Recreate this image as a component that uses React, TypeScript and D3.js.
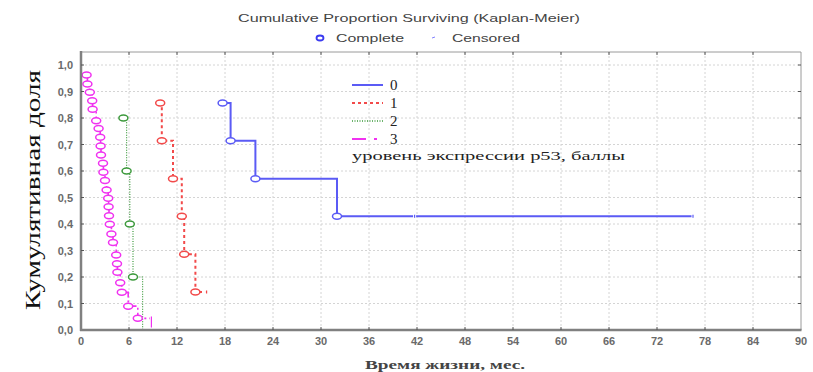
import React, { useRef, useEffect } from 'react';
import * as d3 from 'd3';

// group 0 (blue)
const g0Times = [17.7, 18.7, 21.8, 32.0];
const g0Surv = [0.857, 0.714, 0.571, 0.429];
const g0CensTimes = [41.7, 76.5];
const g0CensSurv = [0.429, 0.429];

// group 1 (red)
const g1Times = [9.9, 10.1, 11.5, 12.6, 12.9, 14.3];
const g1Surv = [0.857, 0.714, 0.571, 0.429, 0.286, 0.143];
const g1CensTimes = [15.7];
const g1CensSurv = [0.143];

// group 2 (green)
const g2Times = [5.3, 5.7, 6.1, 6.5, 7.7];
const g2Surv = [0.8, 0.6, 0.4, 0.2, 0.0];
const g2CensTimes: number[] = [];
const g2CensSurv: number[] = [];

// group 3 (magenta)
const g3Times = [0.7, 0.8, 1.1, 1.4, 1.45, 1.9, 2.2, 2.4, 2.45, 2.5, 2.75, 2.8, 3.0, 3.2, 3.4, 3.45, 3.5, 3.6, 3.8, 4.0, 4.4, 4.5, 4.55, 4.9, 5.1, 5.9, 7.1];
const g3Surv = [0.962, 0.928, 0.897, 0.865, 0.833, 0.79, 0.76, 0.727, 0.694, 0.66, 0.629, 0.595, 0.564, 0.528, 0.497, 0.465, 0.431, 0.399, 0.362, 0.33, 0.283, 0.25, 0.218, 0.178, 0.142, 0.09, 0.044];
const g3CensTimes = [8.8];
const g3CensSurv = [0.03];

const xTicks = [0, 6, 12, 18, 24, 30, 36, 42, 48, 54, 60, 66, 72, 78, 84, 90];
const yTicks = [0, 0.1, 0.2, 0.3, 0.4, 0.5, 0.6, 0.7, 0.8, 0.9, 1.0];
const groupLabels = ['0', '1', '2', '3'];

const GROUPS = [
  { times: g0Times, surv: g0Surv, cTimes: g0CensTimes, cSurv: g0CensSurv, color: '#5b5bf5', dash: null, width: 2, cLen: 3 },
  { times: g1Times, surv: g1Surv, cTimes: g1CensTimes, cSurv: g1CensSurv, color: '#f24a4a', dash: '3,3', width: 2, cLen: 3 },
  { times: g2Times, surv: g2Surv, cTimes: g2CensTimes, cSurv: g2CensSurv, color: '#3d9a3d', dash: '1,1.5', width: 1.2, cLen: 3 },
  { times: g3Times, surv: g3Surv, cTimes: g3CensTimes, cSurv: g3CensSurv, color: '#f032f0', dash: '9,3,2,3', width: 1.6, cLen: 11 },
];

const App: React.FC = () => {
  const svgRef = useRef<SVGSVGElement | null>(null);

  useEffect(() => {
    if (!svgRef.current) return;
    const svg = d3.select(svgRef.current);
    svg.selectAll('*').remove();
    const width = 813, height = 372;
    const left = 81, right = 801, top = 52, bottom = 330;

    const x = d3.scaleLinear().domain([0, 90]).range([left, right]);
    const y = d3.scaleLinear().domain([0, 1]).range([bottom, 65]);

    svg.append('rect').attr('width', width).attr('height', height).attr('fill', '#fff');

    svg.append('clipPath').attr('id', 'plotclip')
      .append('rect').attr('x', left).attr('y', top).attr('width', right - left).attr('height', bottom - top);

    // grid
    const grid = svg.append('g').attr('stroke', '#d4d4d4').attr('stroke-width', 1).attr('stroke-dasharray', '2,2');
    grid.selectAll('line.vx').data(xTicks.slice(1, -1)).join('line')
      .attr('x1', d => x(d)).attr('x2', d => x(d)).attr('y1', top).attr('y2', bottom);
    grid.selectAll('line.hy').data(yTicks.slice(1)).join('line')
      .attr('x1', left).attr('x2', right).attr('y1', d => y(d)).attr('y2', d => y(d));

    // curves
    const plot = svg.append('g').attr('clip-path', 'url(#plotclip)');
    GROUPS.forEach(g => {
      const pts: [number, number][] = [];
      g.times.forEach((t, i) => {
        if (i > 0) pts.push([x(t), y(g.surv[i - 1])]);
        pts.push([x(t), y(g.surv[i])]);
      });
      const lastS = g.surv[g.surv.length - 1];
      g.cTimes.forEach(t => pts.push([x(t), y(lastS)]));
      plot.append('path')
        .attr('d', d3.line()(pts))
        .attr('fill', 'none')
        .attr('stroke', g.color)
        .attr('stroke-width', g.width)
        .attr('stroke-dasharray', g.dash);
      // censored marks
      g.cTimes.forEach((t, i) => {
        plot.append('rect').attr('x', x(t) - 1.5).attr('y', y(lastS) - 2).attr('width', 3).attr('height', 4).attr('fill', '#fff');
        plot.append('line')
          .attr('x1', x(t)).attr('x2', x(t))
          .attr('y1', y(g.cSurv[i]) - g.cLen / 2).attr('y2', y(g.cSurv[i]) + g.cLen / 2)
          .attr('stroke', g.color).attr('stroke-width', 1.2);
      });
      // complete marks (the one sitting on the zero line is hidden by the axis)
      plot.selectAll(null).data(g.times.map((t, i) => [t, g.surv[i]]).filter(d => d[1] > 0)).join('ellipse')
        .attr('cx', d => x(d[0])).attr('cy', d => y(d[1]))
        .attr('rx', 4.5).attr('ry', 3)
        .attr('fill', '#fff').attr('stroke', g.color).attr('stroke-width', 1.5);
    });

    // frame
    svg.append('line').attr('x1', left).attr('x2', right).attr('y1', top).attr('y2', top).attr('stroke', '#9a9a9a').attr('stroke-width', 1);
    svg.append('line').attr('x1', right).attr('x2', right).attr('y1', top).attr('y2', bottom).attr('stroke', '#9a9a9a').attr('stroke-width', 1);
    svg.append('line').attr('x1', left).attr('x2', left).attr('y1', top - 1).attr('y2', bottom + 1).attr('stroke', '#808080').attr('stroke-width', 2.5);
    svg.append('line').attr('x1', left - 1).attr('x2', right + 0.5).attr('y1', bottom).attr('y2', bottom).attr('stroke', '#808080').attr('stroke-width', 2.5);

    // tick marks
    const ticks = svg.append('g').attr('stroke', '#555').attr('stroke-width', 1);
    xTicks.slice(1, -1).forEach(t => {
      ticks.append('line').attr('x1', x(t)).attr('x2', x(t)).attr('y1', bottom).attr('y2', bottom - 3);
      ticks.append('line').attr('x1', x(t)).attr('x2', x(t)).attr('y1', top).attr('y2', top + 3);
    });
    yTicks.slice(1).forEach(t => {
      ticks.append('line').attr('x1', left).attr('x2', left + 3).attr('y1', y(t)).attr('y2', y(t));
      ticks.append('line').attr('x1', right).attr('x2', right - 3).attr('y1', y(t)).attr('y2', y(t));
    });

    // tick labels
    const fmt = (v: number) => v.toFixed(1).replace('.', ',');
    svg.append('g').selectAll('text').data(yTicks).join('text')
      .attr('x', 73).attr('y', d => y(d) + 4)
      .attr('text-anchor', 'end')
      .attr('font-family', 'Liberation Sans, Arial, sans-serif').attr('font-size', 11).attr('font-weight', 'bold')
      .attr('fill', '#6a6a6a')
      .text(d => fmt(d));
    svg.append('g').selectAll('text').data(xTicks).join('text')
      .attr('x', d => x(d)).attr('y', 345)
      .attr('text-anchor', 'middle')
      .attr('font-family', 'Liberation Sans, Arial, sans-serif').attr('font-size', 11).attr('font-weight', 'bold')
      .attr('fill', '#6a6a6a')
      .text(d => String(d));

    // axis titles
    svg.append('text')
      .attr('transform', 'translate(40,190) rotate(-90)')
      .attr('text-anchor', 'middle')
      .attr('font-family', 'Liberation Serif, Times New Roman, serif').attr('font-size', 20)
      .attr('fill', '#111')
      .attr('textLength', 240).attr('lengthAdjust', 'spacingAndGlyphs')
      .text('Кумулятивная доля');
    svg.append('text')
      .attr('x', 445).attr('y', 369)
      .attr('text-anchor', 'middle')
      .attr('font-family', 'Liberation Serif, Times New Roman, serif').attr('font-size', 13).attr('font-weight', 'bold')
      .attr('fill', '#444')
      .attr('textLength', 160).attr('lengthAdjust', 'spacingAndGlyphs')
      .text('Время жизни, мес.');

    // title and marker legend
    svg.append('text')
      .attr('x', 409).attr('y', 22)
      .attr('text-anchor', 'middle')
      .attr('font-family', 'Liberation Sans, Arial, sans-serif').attr('font-size', 11.5)
      .attr('fill', '#444')
      .attr('textLength', 342).attr('lengthAdjust', 'spacingAndGlyphs')
      .text('Cumulative Proportion Surviving (Kaplan-Meier)');
    svg.append('ellipse').attr('cx', 320).attr('cy', 38).attr('rx', 3.5).attr('ry', 2.5)
      .attr('fill', '#fff').attr('stroke', '#3b3bf0').attr('stroke-width', 1.8);
    svg.append('text').attr('x', 336).attr('y', 42)
      .attr('font-family', 'Liberation Sans, Arial, sans-serif').attr('font-size', 11.5).attr('fill', '#444')
      .attr('textLength', 68).attr('lengthAdjust', 'spacingAndGlyphs')
      .text('Complete');
    svg.append('line').attr('x1', 432).attr('x2', 435).attr('y1', 38).attr('y2', 37)
      .attr('stroke', '#8080ff').attr('stroke-width', 1);
    svg.append('text').attr('x', 452).attr('y', 42)
      .attr('font-family', 'Liberation Sans, Arial, sans-serif').attr('font-size', 11.5).attr('fill', '#444')
      .attr('textLength', 68).attr('lengthAdjust', 'spacingAndGlyphs')
      .text('Censored');

    // group legend
    const legY = [85, 103, 121, 139];
    GROUPS.forEach((g, i) => {
      svg.append('line').attr('x1', 352).attr('x2', 383).attr('y1', legY[i]).attr('y2', legY[i])
        .attr('stroke', g.color).attr('stroke-width', i === 2 ? 1.5 : 2)
        .attr('stroke-dasharray', i === 3 ? '14,8,3,6' : g.dash);
      svg.append('text').attr('x', 390).attr('y', legY[i] + 5)
        .attr('font-family', 'Liberation Serif, Times New Roman, serif').attr('font-size', 15)
        .attr('fill', '#222')
        .text(groupLabels[i]);
    });
    svg.append('text').attr('x', 352).attr('y', 160)
      .attr('font-family', 'Liberation Serif, Times New Roman, serif').attr('font-size', 13)
      .attr('fill', '#222')
      .attr('textLength', 273).attr('lengthAdjust', 'spacingAndGlyphs')
      .text('уровень экспрессии р53, баллы');
  }, []);

  return (
    <div style={{ position: 'absolute', left: 0, top: 0 }}>
      <svg ref={svgRef} width={813} height={372} style={{ display: 'block' }}></svg>
    </div>
  );
};

export default App;
